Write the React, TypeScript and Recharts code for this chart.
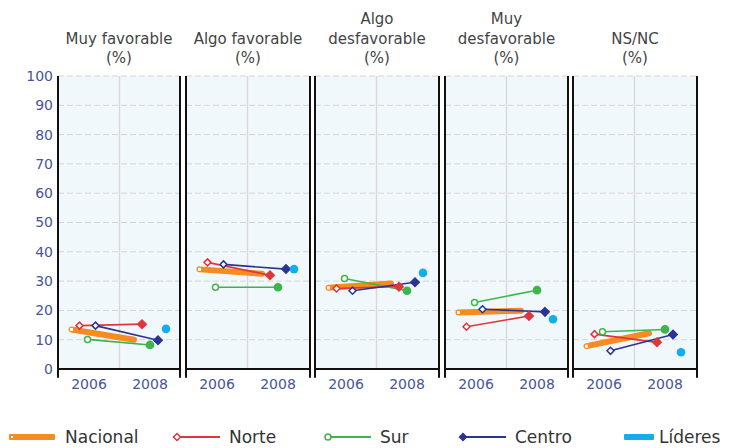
import React from "react";
import { ComposedChart, Line, XAxis, YAxis, CartesianGrid, ReferenceLine } from "recharts";

// ---------- data ----------
const years = ["2006", "2008"];
const panelTitles = [
  ["Muy favorable", "(%)"],
  ["Algo favorable", "(%)"],
  ["Algo", "desfavorable", "(%)"],
  ["Muy", "desfavorable", "(%)"],
  ["NS/NC", "(%)"],
];
const yTicks = [0, 10, 20, 30, 40, 50, 60, 70, 80, 90, 100];
// [2006, 2008] per panel
const nacional = [[13.5, 10], [34, 32.5], [27.7, 29.2], [19.3, 19.9], [7.8, 12.2]];
const norte = [[14.8, 15.3], [36.4, 32], [27.5, 28.1], [14.4, 18.1], [11.9, 9.1]];
const sur = [[10.1, 8.2], [27.9, 27.9], [30.9, 26.7], [22.7, 26.9], [12.7, 13.5]];
const centro = [[14.8, 9.8], [35.7, 34.1], [26.7, 29.6], [20.4, 19.5], [6.2, 11.8]];
const lideres = [13.7, 34.1, 32.8, 17.0, 5.7]; // 2008 only
const seriesNames = ["Nacional", "Norte", "Sur", "Centro", "Líderes"];

// ---------- styles / layout ----------
const FONT = "'DejaVu Sans', Verdana, sans-serif";
const COLORS = ["#f68b1f", "#e0353b", "#3db54a", "#283593", "#13aeea"];
const AXIS_TEXT = "#47559a";
const panelLefts = [58, 186, 315, 445, 573];
const panelWidths = [122, 124, 124, 123, 124];
const PLOT_TOP = 76;
const PLOT_H = 293;
const TOP_M = 12;
const X_AXIS_H = 30;
const STEP_PX = 62.5; // px between 2006 and 2008 points
const START_PX = 13.5; // first series start offset inside panel
const SLOT = 0.128; // horizontal offset between series (in step units)
const GRID_X = 0.768;
const TICK_X = [0.28, 1.256];

const diamond = (cx: number, cy: number, r: number) =>
  `${cx},${cy - r} ${cx + r},${cy} ${cx},${cy + r} ${cx - r},${cy}`;

const makeDot = (color: string, shape: string) => (props: any) => {
  const { cx, cy, index } = props;
  const key = `dot-${shape}-${index}`;
  if (cx == null || cy == null) return <g key={key} />;
  const open = index === 0;
  const fill = open ? "#fff" : color;
  if (shape === "diamond")
    return <polygon key={key} points={diamond(cx, cy, open ? 3.5 : 4.2)} fill={fill} stroke={color} strokeWidth={1.5} />;
  if (shape === "circle")
    return <circle key={key} cx={cx} cy={cy} r={open ? 3 : 3.6} fill={fill} stroke={color} strokeWidth={1.5} />;
  if (shape === "nac")
    return open ? (
      <g key={key}>
        <rect x={cx - 1.5} y={cy - 1.5} width={3} height={3} fill="#fff" />
      </g>
    ) : (
      <g key={key} />
    );
  if (shape === "lid") return <circle key={key} cx={cx} cy={cy} r={4.3} fill={color} />;
  return <g key={key} />;
};

const pairData = (vals: number[], slot: number) =>
  vals.map((v, i) => ({ x: i + slot * SLOT, y: v }));

function Panel({ p }: { p: number }) {
  const w = panelWidths[p];
  const first = p === 0;
  const yAxisW = first ? 50 : 0;
  const xMin = -START_PX / STEP_PX;
  const xMax = (w - START_PX) / STEP_PX;
  const chartLeft = panelLefts[p] - yAxisW - (first ? 0 : 3);
  const series = [nacional[p], norte[p], sur[p], centro[p]];
  const shapes = ["nac", "diamond", "circle", "diamond"];
  return (
    <div style={{ position: "absolute", left: chartLeft, top: PLOT_TOP - TOP_M }}>
      <ComposedChart
        width={yAxisW + w + (first ? 3 : 6)}
        height={TOP_M + PLOT_H + X_AXIS_H}
        margin={{ top: TOP_M, right: 3, bottom: 0, left: first ? 0 : 3 }}
      >
        <CartesianGrid
          vertical={false}
          stroke="#d4d4d4"
          strokeDasharray="6 3"
          fill="#f1f8fc"
          fillOpacity={1}
        />
        <XAxis
          type="number"
          dataKey="x"
          domain={[xMin, xMax]}
          allowDataOverflow
          ticks={TICK_X}
          tickFormatter={(v: number) => years[TICK_X.indexOf(v)] ?? ""}
          tickLine={false}
          tickSize={0}
          tickMargin={10}
          height={X_AXIS_H}
          axisLine={{ stroke: "#111", strokeWidth: 2 }}
          tick={{ fill: AXIS_TEXT, fontSize: 14, fontFamily: FONT }}
          interval={0}
        />
        <YAxis
          type="number"
          domain={[0, 100]}
          ticks={yTicks}
          hide={!first}
          width={yAxisW}
          axisLine={false}
          tickLine={false}
          tickSize={0}
          tickMargin={5}
          tick={{ fill: AXIS_TEXT, fontSize: 14, fontFamily: FONT }}
          interval={0}
        />
        <ReferenceLine x={GRID_X} stroke="#d9d9d9" strokeWidth={1.5} />
        <ReferenceLine
          segment={[{ x: xMin, y: -3 }, { x: xMin, y: 100 }]}
          ifOverflow="visible"
          stroke="#111"
          strokeWidth={2}
        />
        <ReferenceLine
          segment={[{ x: xMax, y: -3 }, { x: xMax, y: 100 }]}
          ifOverflow="visible"
          stroke="#111"
          strokeWidth={2}
        />
        {series.map((vals, s) => (
          <Line
            key={seriesNames[s]}
            data={pairData(vals, s)}
            dataKey="y"
            type="linear"
            stroke={COLORS[s]}
            strokeWidth={s === 0 ? 6 : 1.6}
            strokeLinecap={s === 0 ? "round" : "butt"}
            dot={makeDot(COLORS[s], shapes[s])}
            activeDot={false}
            isAnimationActive={false}
          />
        ))}
        <Line
          data={[{ x: 1 + 4 * SLOT, y: lideres[p] }]}
          dataKey="y"
          stroke={COLORS[4]}
          dot={makeDot(COLORS[4], "lid")}
          activeDot={false}
          isAnimationActive={false}
        />
      </ComposedChart>
    </div>
  );
}

const LINE_H = 19.5;
const TITLE_BOTTOM = 68.75;

const legendLefts = [9, 172, 323, 458, 624];
const legendIconW = [46, 48, 48, 48, 30];

function LegendIcon({ i }: { i: number }) {
  const w = legendIconW[i];
  const c = COLORS[i];
  return (
    <svg width={w} height={20} style={{ display: "block" }}>
      {i === 0 && (
        <g>
          <rect x={0} y={7} width={w} height={6} rx={1} fill={c} />
          <rect x={2} y={9} width={2} height={2} fill="#fff" />
        </g>
      )}
      {i === 4 && <rect x={0} y={7} width={w} height={6} rx={1} fill={c} />}
      {(i === 1 || i === 3) && (
        <g>
          <line x1={5} y1={10} x2={w} y2={10} stroke={c} strokeWidth={2} />
          <polygon points={diamond(5, 10, 3.5)} fill={i === 1 ? "#fff" : c} stroke={c} strokeWidth={1.5} />
        </g>
      )}
      {i === 2 && (
        <g>
          <line x1={5} y1={10} x2={w} y2={10} stroke={c} strokeWidth={2} />
          <circle cx={5} cy={10} r={3} fill="#fff" stroke={c} strokeWidth={1.5} />
        </g>
      )}
    </svg>
  );
}

export default function App() {
  return (
    <div
      style={{
        position: "absolute",
        left: 0,
        top: 0,
        width: 732,
        height: 448,
        background: "#fff",
        overflow: "hidden",
        fontFamily: FONT,
      }}
    >
      {panelTitles.map((lines, p) => (
        <div
          key={p}
          style={{
            position: "absolute",
            left: panelLefts[p] - 20,
            width: panelWidths[p] + 40,
            top: TITLE_BOTTOM - lines.length * LINE_H,
            textAlign: "center",
            fontSize: 15,
            lineHeight: `${LINE_H}px`,
            color: "#444",
          }}
        >
          {lines.map((l, k) => (
            <div key={k}>{l}</div>
          ))}
        </div>
      ))}
      {panelTitles.map((_, p) => (
        <Panel key={p} p={p} />
      ))}
      {seriesNames.map((name, i) => (
        <div
          key={name}
          style={{
            position: "absolute",
            left: legendLefts[i],
            top: 427,
            height: 20,
            display: "flex",
            alignItems: "center",
            fontSize: 17,
            lineHeight: "20px",
            color: "#333",
            whiteSpace: "nowrap",
          }}
        >
          <LegendIcon i={i} />
          <span style={{ marginLeft: i === 0 ? 10 : i === 4 ? 5 : 9 }}>{name}</span>
        </div>
      ))}
    </div>
  );
}
